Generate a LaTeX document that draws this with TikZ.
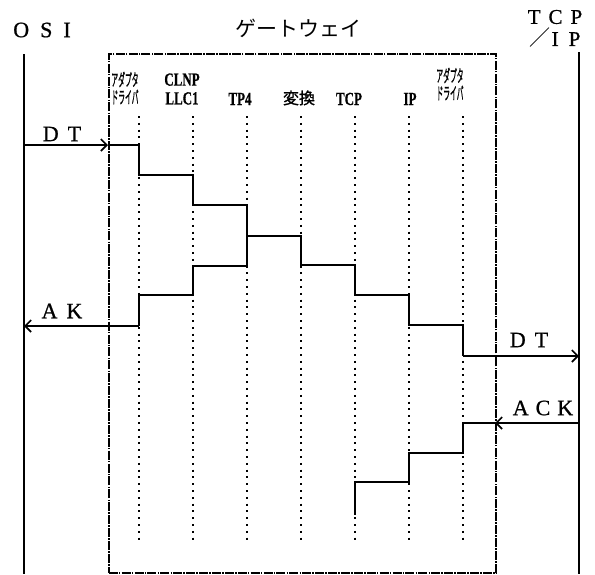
\documentclass[tikz,border=0pt]{standalone}
\usepackage{fontspec}
\setmainfont{Liberation Serif}
\newfontfamily\msgfont[FakeBold=0.8]{Liberation Serif}
\newfontfamily\latfont[FakeBold=0.7]{Liberation Serif Bold}
\newfontfamily\jp{Noto Sans CJK JP}
\newfontfamily\jpb[FakeBold=1.2]{Noto Sans CJK JP}
\usetikzlibrary{arrows.meta}
\begin{document}
\begin{tikzpicture}[x=1pt,y=-1pt,
  life/.style={line width=2.2pt},
  sig/.style={line width=1.9pt},
  tip/.style={-{Straight Barb[length=6pt,width=12pt,line width=1.6pt]}},
  layer/.style={line width=1.9pt, dash pattern=on 1.9pt off 4.9pt},
  gw/.style={line width=1.5pt, dash pattern=on 9pt off 1.2pt on 1.5pt off 1.2pt},
  big/.style={inner sep=0pt, font=\msgfont\fontsize{22}{22}\selectfont},
  msg/.style={inner sep=0pt, font=\msgfont\fontsize{22}{22}\selectfont},
  kana/.style={inner sep=0pt, align=center, font=\jpb\fontsize{17}{17.5}\selectfont, xscale=0.4},
  lat/.style={inner sep=0pt, align=center, font=\latfont\fontsize{18.5}{18.8}\selectfont, xscale=0.7},
  kanji/.style={inner sep=0pt, font=\jpb\fontsize{16}{16}\selectfont},
]
\useasboundingbox (0,0) rectangle (595,574);

% titles
\node[big] (tosi) at (42,30) {O\hspace{11pt}S\hspace{11pt}I};
\node[inner sep=0pt, font=\jp\fontsize{21}{21}\selectfont] (tgw) at (298,28) {ゲートウェイ};
\node[msg, font=\msgfont\fontsize{21}{21}\selectfont] (ttcp) at (555,17) {T\hspace{8pt}C\hspace{8pt}P};
\node[msg, font=\msgfont\fontsize{21}{21}\selectfont] (tip2) at (555,38) {{\jp ／}\hspace{1pt}I\hspace{10pt}P};

% life lines
\coordinate (osiT) at (24,54);
\coordinate (osiB) at (24,574);
\coordinate (tcpT) at (579,52);
\coordinate (tcpB) at (579,574);
\draw[life] (osiT) -- (osiB);
\draw[life] (tcpT) -- (tcpB);

% gateway box
\node[draw, gw, anchor=north west, inner sep=0pt, minimum width=387pt, minimum height=519pt] (gwbox) at (108,53) {};

% layer lines
\foreach \x/\n in {139/a,193/b,247/c,301/d,355/e,409/f,463/g}{
  \coordinate (\n T) at (\x,116);
  \coordinate (\n B) at (\x,543);
  \draw[layer] (\n T) -- (\n B);
}

% layer labels
\node[kana] (l1) at (125,88) {アダプタ\\ドライバ};
\node[lat] (l2) at (182,89) {CLNP\\LLC1};
\node[lat, anchor=base] (l3) at (240,105) {TP4};
\node[kanji, anchor=base] (l4) at (299,104) {変換};
\node[lat, anchor=base] (l5) at (349,105) {TCP};
\node[lat, anchor=base] (l6) at (410,105) {IP};
\node[kana] (l7) at (450,84) {アダプタ\\ドライバ};

% message labels
\node[msg] (mdt1) at (62,134) {D\hspace{9pt}T};
\node[msg] (mak) at (62,311) {A\hspace{9pt}K};
\node[msg] (mdt2) at (529,340) {D\hspace{9pt}T};
\node[msg] (mack) at (543,408) {A\hspace{7pt}C\hspace{7pt}K};

% DT from OSI
\coordinate (dt0) at (24,145);
\coordinate (dt1) at (108,145);
\draw[sig, tip] (dt0) -- (dt1);
\draw[sig] (dt1) -- (139,145) -- (139,175) -- (193,175) -- (193,205) -- (247,205)
  -- (247,236) -- (301,236) -- (301,265) -- (355,265) -- (355,295) -- (409,295)
  -- (409,325) -- (463,325) -- (463,356) coordinate (dt2);
\coordinate (dt3) at (579,356);
\draw[sig, tip] (dt2) -- (dt3);

% AK back to OSI
\coordinate (ak0) at (139,326);
\coordinate (ak1) at (24,326);
\draw[sig] (247,236) -- (247,266) -- (193,266) -- (193,295) -- (139,295) -- (ak0);
\draw[sig, tip] (ak0) -- (ak1);

% ACK from TCP/IP
\coordinate (ack0) at (579,423);
\coordinate (ack1) at (495,423);
\draw[sig, tip] (ack0) -- (ack1);
\draw[sig] (ack1) -- (463,423) -- (463,453) -- (409,453) -- (409,482) -- (355,482) -- (355,515);
\end{tikzpicture}
\end{document}
